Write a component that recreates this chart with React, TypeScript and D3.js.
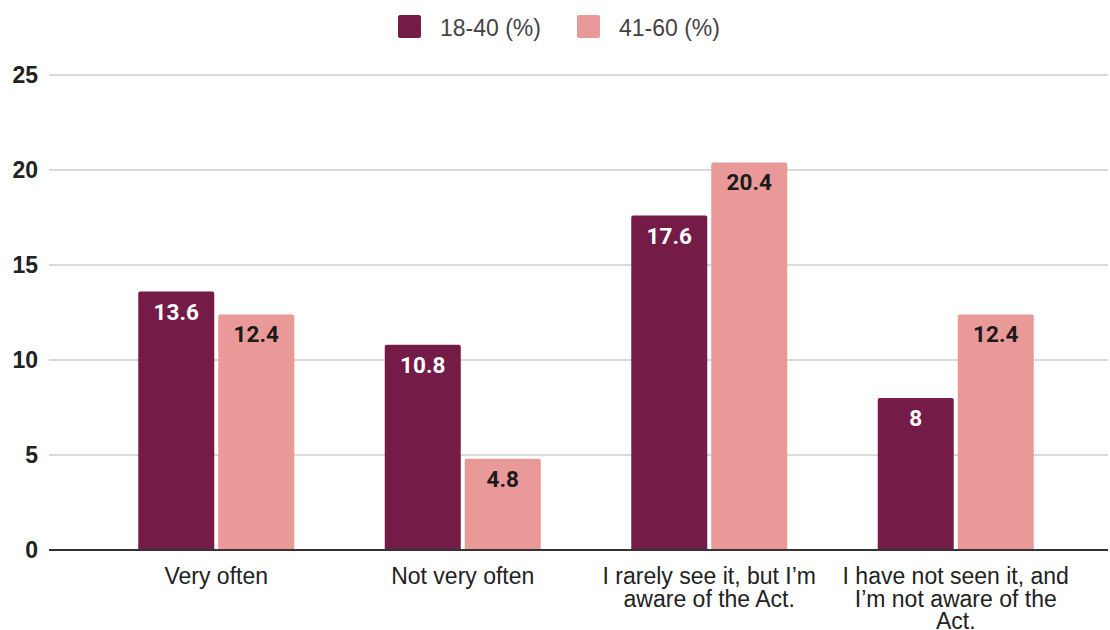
import React from "react";
import * as d3 from "d3";

const categories: string[][] = [
  ["Very often"],
  ["Not very often"],
  ["I rarely see it, but I\u2019m", "aware of the Act."],
  ["I have not seen it, and", "I\u2019m not aware of the", "Act."],
];
const seriesNames = ["18-40 (%)", "41-60 (%)"];
const young = [13.6, 10.8, 17.6, 8];
const older = [12.4, 4.8, 20.4, 12.4];
const yTicks = [0, 5, 10, 15, 20, 25];
const colors = ["#741b47", "#ea9999"];
const labelColors = ["#ffffff", "#1a1a1a"];

const W = 1110;
const H = 630;

export default function App() {
  const y = d3.scaleLinear().domain([0, 25]).range([550, 75]);
  const x = d3
    .scaleBand<number>()
    .domain(d3.range(categories.length))
    .range([93, 1079]);
  const inner = d3
    .scaleBand<number>()
    .domain([0, 1])
    .range([0, 156])
    .paddingInner(0.05);
  const series = [young, older];

  const roundTop = (x0: number, y0: number, w: number, h: number, r: number) => {
    const p = d3.path();
    p.moveTo(x0, y0 + h);
    p.lineTo(x0, y0 + r);
    p.quadraticCurveTo(x0, y0, x0 + r, y0);
    p.lineTo(x0 + w - r, y0);
    p.quadraticCurveTo(x0 + w, y0, x0 + w, y0 + r);
    p.lineTo(x0 + w, y0 + h);
    p.closePath();
    return p.toString();
  };

  return (
    <svg
      width={W}
      height={H}
      style={{ position: "absolute", left: 0, top: 0, background: "#fff" }}
      fontFamily="Arial, 'Liberation Sans', sans-serif"
    >
      {/* legend */}
      {seriesNames.map((name, i) => {
        const lx = [398, 577][i];
        return (
          <g key={name}>
            <rect x={lx} y={15} width={23} height={23} rx={2} fill={colors[i]} />
            <text x={lx + 42} y={36} fontSize={23} fill="#444">
              {name}
            </text>
          </g>
        );
      })}

      {/* grid */}
      {yTicks.map((t) => (
        <g key={t}>
          {t > 0 && (
            <line x1={49} x2={1108} y1={y(t)} y2={y(t)} stroke="#cccccc" strokeWidth={1.3} />
          )}
          <text
            x={38}
            y={y(t) + 8}
            textAnchor="end"
            fontSize={23}
            fontWeight="bold"
            fill="#222"
          >
            {t}
          </text>
        </g>
      ))}

      {/* bars */}
      {categories.map((_, ci) => {
        const cx = (x(ci) as number) + x.bandwidth() / 2 - 78;
        return (
          <g key={ci}>
            {series.map((s, si) => {
              const v = s[ci];
              const bx = cx + (inner(si) as number);
              const bw = inner.bandwidth();
              const top = y(v);
              return (
                <g key={si}>
                  <path d={roundTop(bx, top, bw, y(0) - top, 2)} fill={colors[si]} />
                  <text
                    x={bx + bw / 2}
                    y={top + 28}
                    textAnchor="middle"
                    fontSize={22.5}
                    fontWeight="bold"
                    fontFamily="Roboto, sans-serif"
                    fill={labelColors[si]}
                  >
                    {v}
                  </text>
                </g>
              );
            })}
          </g>
        );
      })}

      {/* baseline */}
      <line x1={49} x2={1108} y1={y(0)} y2={y(0)} stroke="#333" strokeWidth={2} />

      {/* category labels */}
      {categories.map((lines, ci) => {
        const cx = (x(ci) as number) + x.bandwidth() / 2;
        return (
          <text key={ci} textAnchor="middle" fontSize={23} fill="#222">
            {lines.map((ln, li) => (
              <tspan key={li} x={cx} y={584 + li * 22.5}>
                {ln}
              </tspan>
            ))}
          </text>
        );
      })}
    </svg>
  );
}
